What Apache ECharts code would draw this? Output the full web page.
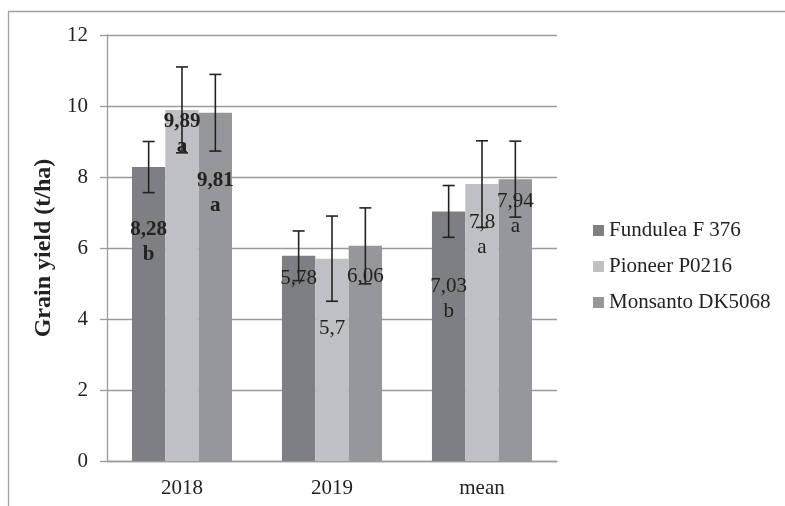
<!DOCTYPE html>
<html><head><meta charset="utf-8">
<script src="https://cdn.jsdelivr.net/npm/echarts@6/dist/echarts.min.js"></script>
<style>html,body{margin:0;padding:0;background:#fff}#c{width:785px;height:506px}</style>
</head><body><div id="c"></div>
<script>
var categories = ['2018', '2019', 'mean'];
var seriesNames = ['Fundulea F 376', 'Pioneer P0216', 'Monsanto DK5068'];
var fundulea = [8.28, 5.78, 7.03];
var pioneer = [9.89, 5.7, 7.8];
var monsanto = [9.81, 6.06, 7.94];
var funduleaErr = [0.72, 0.70, 0.73];
var pioneerErr = [1.21, 1.2, 1.22];
var monsantoErr = [1.08, 1.07, 1.07];
var funduleaText = ['8,28\nb', '5,78', '7,03\nb'];
var pioneerText = ['9,89\na', '5,7', '7,8\na'];
var monsantoText = ['9,81\na', '6,06', '7,94\na'];
var yTicks = [0, 2, 4, 6, 8, 10, 12];

// label placement (distance below bar top), styling only
var labelDist = [[50, 10, 63], [-1, 57, 26], [55, 18, 10]];

var colors = ['#7e7f83', '#bfc0c4', '#96979b'];
var values = [fundulea, pioneer, monsanto];
var errs = [funduleaErr, pioneerErr, monsantoErr];
var texts = [funduleaText, pioneerText, monsantoText];
var FONT = '"Liberation Serif", "Times New Roman", serif';

var chart = echarts.init(document.getElementById('c'));
var series = [];
values.forEach(function (vals, s) {
  series.push({
    name: seriesNames[s], type: 'bar', barGap: '0%', barCategoryGap: '33.3%',
    itemStyle: { color: colors[s] },
    data: vals.map(function (v, i) {
      return {
        value: v,
        label: {
          show: true, position: 'insideTop', distance: labelDist[s][i],
          formatter: texts[s][i], fontFamily: FONT, fontSize: 21,
          fontWeight: i === 0 ? 'bold' : 'normal', color: '#222', lineHeight: 25
        }
      };
    })
  });
});
values.forEach(function (vals, s) {
  series.push({
    type: 'custom', name: seriesNames[s] + ' err', z: 10, silent: true,
    data: vals.map(function (v, i) { return [i, v, errs[s][i]]; }),
    renderItem: function (params, api) {
      var i = api.value(0), v = api.value(1), e = api.value(2);
      var band = api.size([1, 0])[0];
      var bw = band * (1 - 0.333) / 3;
      var off = (s - 1) * bw;
      var top = api.coord([i, v + e]);
      var bot = api.coord([i, v - e]);
      var x = top[0] + off;
      var h = 6;
      var st = { stroke: '#222', lineWidth: 1.6 };
      return { type: 'group', children: [
        { type: 'line', shape: { x1: x, y1: top[1], x2: x, y2: bot[1] }, style: st },
        { type: 'line', shape: { x1: x - h, y1: top[1], x2: x + h, y2: top[1] }, style: st },
        { type: 'line', shape: { x1: x - h, y1: bot[1], x2: x + h, y2: bot[1] }, style: st }
      ]};
    }
  });
});

chart.setOption({
  animation: false,
  backgroundColor: '#fff',
  graphic: [{ type: 'rect', shape: { x: 8.5, y: 11.5, width: 900, height: 700 },
    style: { fill: 'none', stroke: '#a0a0a0', lineWidth: 1.3 }, silent: true }],
  grid: { left: 107, right: 228, top: 35, bottom: 45 },
  legend: {
    orient: 'vertical', left: 588, top: 215, itemWidth: 11, itemHeight: 11, itemGap: 15,
    icon: 'rect', data: seriesNames,
    textStyle: { fontFamily: FONT, fontSize: 21, color: '#222', lineHeight: 21 }
  },
  xAxis: {
    type: 'category', data: categories,
    axisLine: { lineStyle: { color: '#9a9a9a', width: 1.3 } },
    axisTick: { show: false },
    axisLabel: { fontFamily: FONT, fontSize: 21, color: '#222', margin: 17 }
  },
  yAxis: {
    type: 'value', min: yTicks[0], max: yTicks[yTicks.length - 1], interval: 2,
    name: 'Grain yield (t/ha)', nameLocation: 'middle', nameGap: 46,
    nameTextStyle: { fontFamily: FONT, fontSize: 24, fontWeight: 'bold', color: '#222' },
    axisLine: { show: true, lineStyle: { color: '#9a9a9a', width: 1.3 } },
    axisTick: { show: true, length: 7, lineStyle: { color: '#9a9a9a', width: 1.3 } },
    splitLine: { lineStyle: { color: '#9a9a9a', width: 1.3 } },
    axisLabel: { fontFamily: FONT, fontSize: 21, color: '#222', margin: 19 }
  },
  series: series
});
</script></body></html>
